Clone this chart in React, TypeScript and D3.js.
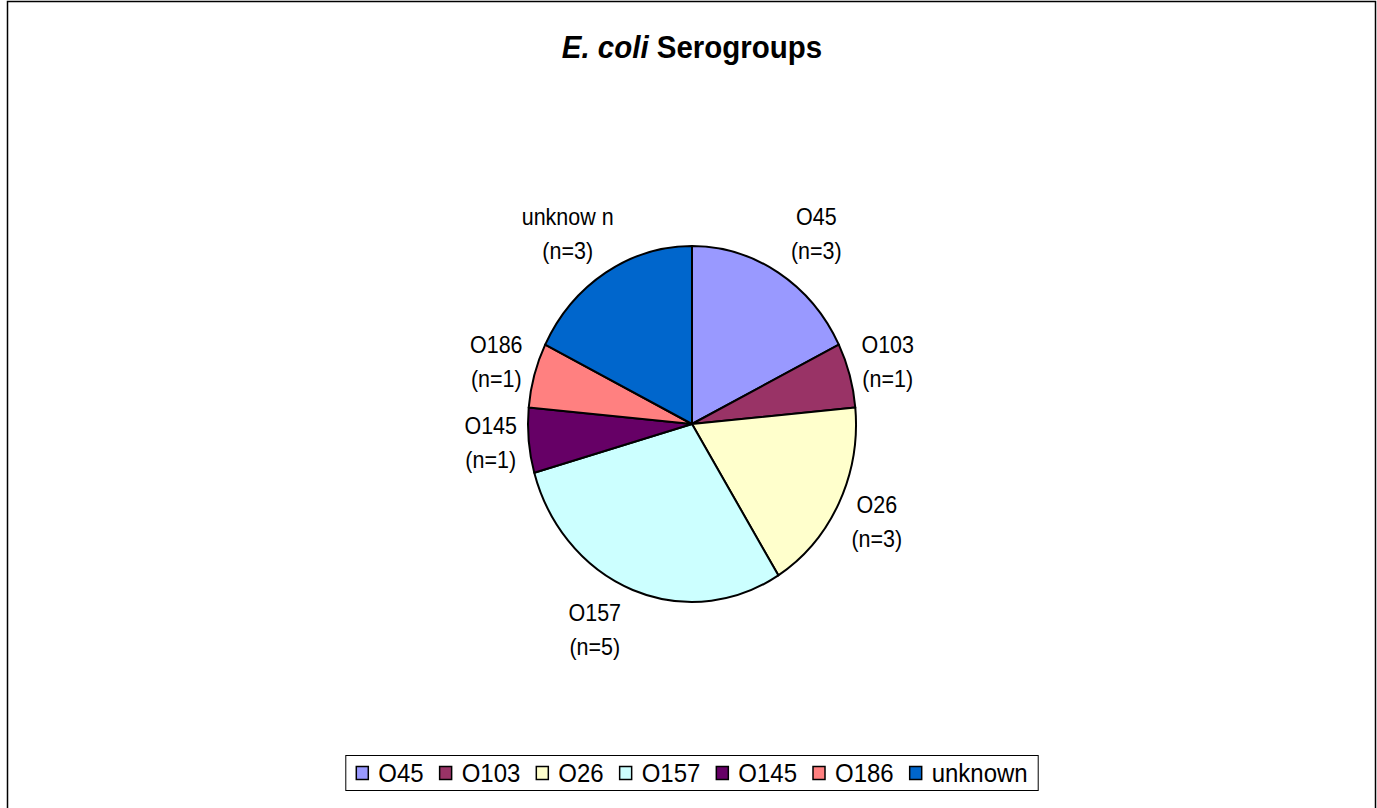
import React, { useRef, useEffect } from 'react';
import * as d3 from 'd3';

// slices, clockwise from 12 o'clock
const groups = ['O45', 'O103', 'O26', 'O157', 'O145', 'O186', 'unknown'];
const counts = [3, 1, 3, 5, 1, 1, 3];
const labelNames = ['O45', 'O103', 'O26', 'O157', 'O145', 'O186', 'unknow n'];
const colors = ['#9999FF', '#993366', '#FFFFCC', '#CCFFFF', '#660066', '#FF8080', '#0066CC'];

const W = 1377;
const H = 808;

const App = () => {
  const ref = useRef<SVGSVGElement>(null);

  useEffect(() => {
    const svg = d3.select(ref.current);
    svg.selectAll('*').remove();

    const font = 'Arial, "Liberation Sans", sans-serif';
    // the original picture is stretched a bit vertically
    const cx = 692, cy = 424, rx = 164, ry = 178;
    const k = ry / rx;

    // outer frame
    svg.append('rect')
      .attr('x', 7.5).attr('y', 1.5)
      .attr('width', 1368).attr('height', 830)
      .attr('fill', '#fff').attr('stroke', '#000').attr('stroke-width', 1.5);

    // title
    const title = svg.append('text')
      .attr('transform', `translate(692,58) scale(1,${k})`)
      .attr('text-anchor', 'middle')
      .attr('font-family', font)
      .attr('font-size', 29.5)
      .attr('font-weight', 'bold');
    title.append('tspan').attr('font-style', 'italic').text('E. coli');
    title.append('tspan').text(' Serogroups');

    // pie
    const data = groups.map((g, i) => ({ g, n: counts[i], label: labelNames[i], color: colors[i] }));
    const pie = d3.pie<any>().value(d => d.n).sort(null);
    const arcs = pie(data);
    const arc = d3.arc<any>().innerRadius(0).outerRadius(rx);

    const g = svg.append('g')
      .attr('transform', `translate(${cx},${cy}) scale(1,${k})`);
    g.selectAll('path')
      .data(arcs)
      .enter()
      .append('path')
      .attr('d', arc)
      .attr('fill', d => d.data.color)
      .attr('stroke', '#000')
      .attr('stroke-width', 2)
      .attr('stroke-linejoin', 'round')
      .attr('vector-effect', 'non-scaling-stroke');

    // labels outside the slices
    arcs.forEach(a => {
      const mid = (a.startAngle + a.endAngle) / 2;
      const s = Math.sin(mid), c = Math.cos(mid);
      const ex = cx + rx * s;
      const ey = cy - ry * c;
      const lx = ex + Math.sign(s) * 38;
      const ly = ey - c * 44;
      const t = svg.append('text')
        .attr('transform', `translate(${lx},${ly}) scale(1,${k})`)
        .attr('text-anchor', 'middle')
        .attr('font-family', font)
        .attr('font-size', 21.5);
      t.append('tspan').attr('x', 0).attr('y', -10 / k).text(a.data.label);
      t.append('tspan').attr('x', 0).attr('y', 24 / k).text(`(n=${a.data.n})`);
    });

    // legend
    const lg = svg.append('g');
    const box = lg.append('rect')
      .attr('fill', '#fff').attr('stroke', '#000').attr('stroke-width', 1);
    let x = 0;
    const items: any[] = [];
    data.forEach(d => {
      const it = lg.append('g');
      it.append('rect')
        .attr('x', x).attr('y', 766.5)
        .attr('width', 12).attr('height', 13)
        .attr('fill', d.color).attr('stroke', '#000').attr('stroke-width', 1.5);
      const txt = it.append('text')
        .attr('transform', `translate(${x + 22},782) scale(1,${k})`)
        .attr('font-family', font)
        .attr('font-size', 24)
        .text(d.g);
      const tw = (txt.node() as SVGTextElement).getComputedTextLength();
      items.push(it);
      x += 22 + tw + 16;
    });
    const contentW = x - 16;
    const x0 = 692 - contentW / 2;
    items.forEach(it => it.attr('transform', `translate(${x0},0)`));
    box.attr('x', x0 - 10.5).attr('y', 755.5)
      .attr('width', contentW + 21).attr('height', 35);
  }, []);

  return (
    <div>
      <svg ref={ref} width={W} height={H}
        style={{ position: 'absolute', left: 0, top: 0, background: '#fff' }} />
    </div>
  );
};

export default App;
